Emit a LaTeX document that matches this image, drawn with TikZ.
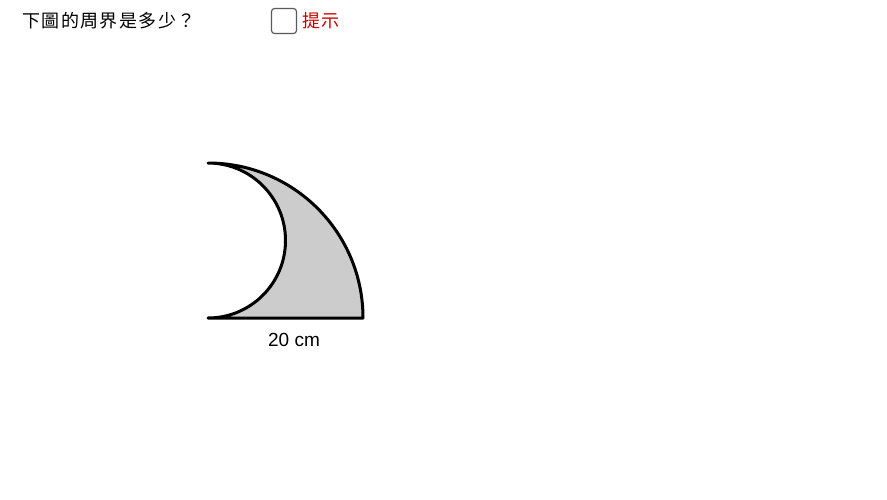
\documentclass[tikz,border=0pt]{standalone}
\usepackage{fontspec}
\setmainfont{Liberation Sans}
\newfontfamily\cjk[LetterSpace=8]{Noto Sans CJK TC}
\begin{document}
\begin{tikzpicture}[x=1pt,y=-1pt,
  shape line/.style={line width=3pt,line cap=round,line join=round},
  cjktext/.style={inner sep=0pt,anchor=west,font=\cjk\fontsize{18}{20}\selectfont}]
\useasboundingbox (0,0) rectangle (887,499);
\coordinate (O) at (208,318);
\coordinate (T) at (208,163);
\coordinate (R) at (363,318);
% shaded region
\fill[fill={rgb,255:red,204;green,204;blue,204}]
  (T) arc[start angle=-90,end angle=0,radius=155] -- (O)
  arc[start angle=90,end angle=-90,radius=77.5] -- cycle;
% outlines
\draw[shape line] (T) arc[start angle=-90,end angle=0,radius=155] -- (O)
  arc[start angle=90,end angle=-90,radius=77.5];
\node[inner sep=0pt,font=\fontsize{19}{22}\selectfont] (lbl) at (294,340) {20 cm};
\node[cjktext] (q) at (22,21) {下圖的周界是多少？};
\node[draw={rgb,255:red,90;green,90;blue,90},line width=1.2pt,rounded corners=3pt,minimum size=25pt,inner sep=0pt] (cb) at (284,21) {};
\node[cjktext,text={rgb,255:red,204;green,0;blue,0}] (hint) at (302,21) {提示};
\end{tikzpicture}
\end{document}
